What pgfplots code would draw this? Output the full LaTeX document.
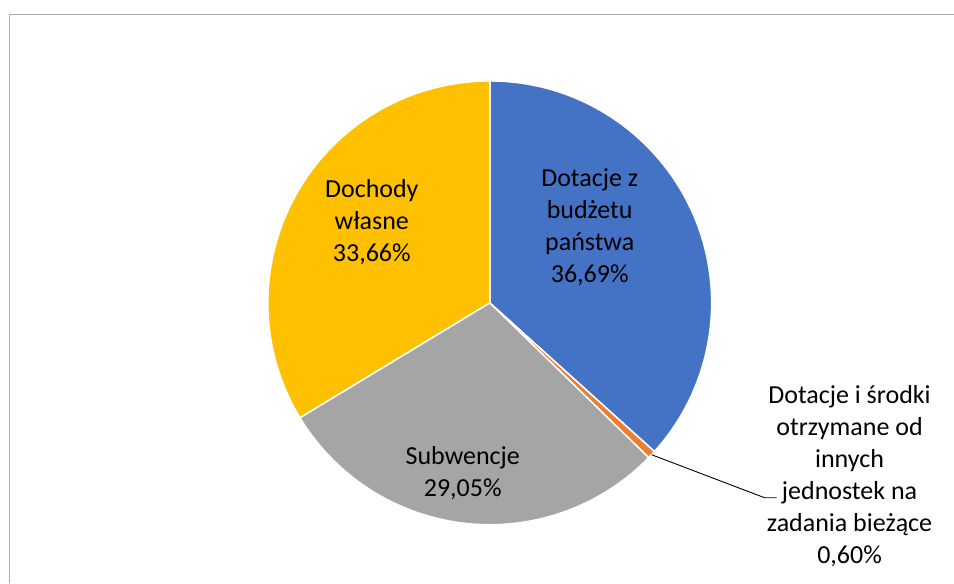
\documentclass[border=0pt]{standalone}
\usepackage{pgfplots}
\pgfplotsset{compat=1.18}
\usepackage{fontspec}
\setmainfont{Carlito}

\definecolor{sliceBlue}{HTML}{4472C4}
\definecolor{sliceOrange}{HTML}{ED7D31}
\definecolor{sliceGray}{HTML}{A5A5A5}
\definecolor{sliceGold}{HTML}{FFC000}
\definecolor{frameGray}{HTML}{ADADAD}

% udzialy w procentach
\def\vA{36.69} % Dotacje z budzetu panstwa
\def\vB{0.60}  % Dotacje i srodki od innych jednostek
\def\vC{29.05} % Subwencje
\def\vD{33.66} % Dochody wlasne

\pgfmathsetmacro\aA{90}
\pgfmathsetmacro\aB{\aA-3.6*\vA}
\pgfmathsetmacro\aC{\aB-3.6*\vB}
\pgfmathsetmacro\aD{\aC-3.6*\vC}
\pgfmathsetmacro\aE{\aD-3.6*\vD}

\tikzset{lbl/.style={font=\fontsize{26bp}{32bp}\selectfont, align=center, inner sep=0pt}}

\begin{document}
\begin{tikzpicture}
\begin{axis}[
    width=954bp, height=583bp,
    scale only axis,
    xmin=0, xmax=954, ymin=0, ymax=583,
    hide axis,
    clip=false
]
\path (axis cs:0,0) rectangle (axis cs:954,583);
\draw[frameGray, line width=1bp] (axis cs:9.5,0) -- (axis cs:9.5,568.5) -- (axis cs:954,568.5);

\filldraw[fill=sliceBlue, draw=white, line width=1.5bp] (axis cs:490,280) -- +(\aA:222bp) arc[start angle=\aA, end angle=\aB, radius=222bp] -- cycle;
\filldraw[fill=sliceOrange, draw=white, line width=1.5bp] (axis cs:490,280) -- +(\aB:222bp) arc[start angle=\aB, end angle=\aC, radius=222bp] -- cycle;
\filldraw[fill=sliceGray, draw=white, line width=1.5bp] (axis cs:490,280) -- +(\aC:222bp) arc[start angle=\aC, end angle=\aD, radius=222bp] -- cycle;
\filldraw[fill=sliceGold, draw=white, line width=1.5bp] (axis cs:490,280) -- +(\aD:222bp) arc[start angle=\aD, end angle=\aE, radius=222bp] -- cycle;

\draw[black, line width=0.9bp] (axis cs:652,128) -- (axis cs:765,85) -- (axis cs:777,85);

\node[lbl] at (axis cs:590,355.5) {Dotacje z\\budżetu\\państwa\\36,69\%};
\node[lbl] at (axis cs:372,361) {Dochody\\własne\\33,66\%};
\node[lbl] at (axis cs:463,110) {Subwencje\\29,05\%};
\node[lbl] at (axis cs:850,107) {Dotacje i środki\\otrzymane od\\innych\\jednostek na\\zadania bieżące\\0,60\%};
\end{axis}
\end{tikzpicture}
\end{document}
